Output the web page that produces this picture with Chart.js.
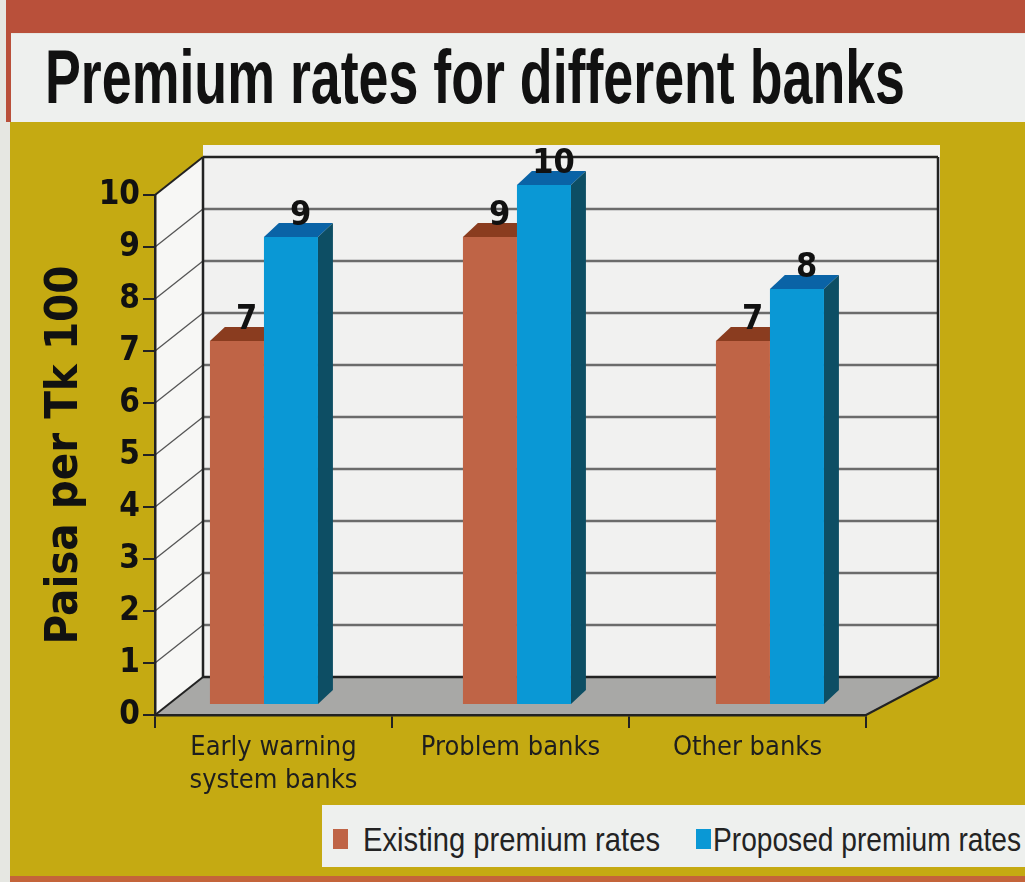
<!DOCTYPE html>
<html>
<head>
<meta charset="utf-8">
<script src="https://cdn.jsdelivr.net/npm/chart.js@4.4.0/dist/chart.umd.min.js"></script>
<style>
  body { margin: 0; width: 1025px; height: 882px; background: #e6e7e2; position: relative; overflow: hidden; }
  .box { position: absolute; }
  #redTop { left: 6px; top: 0; width: 1019px; height: 33px; background: #b9503a; }
  #redSide { left: 6px; top: 0; width: 5px; height: 122px; background: #b9503a; }
  #titleBox { left: 11px; top: 34px; width: 1014px; height: 88px; background: #eef0ee; }
  #panel { left: 10px; top: 122px; width: 1015px; height: 755px; background: #c5aa12; }
  #bottomLine { left: 10px; top: 876px; width: 1015px; height: 6px; background: #c4643a; }
  #legendBox { left: 322px; top: 805px; width: 703px; height: 62px; background: #eef0ee; }
  .fit { position: absolute; white-space: nowrap; display: inline-block; transform-origin: left center; font-family: "Liberation Sans", Arial, sans-serif; }
  #title { left: 45px; top: 39px; font-size: 76px; line-height: 76px; font-weight: bold; color: #111; }
  .legText { top: 823px; font-size: 33px; line-height: 33px; color: #232323; }
  .legSwatch { position: absolute; top: 829px; width: 15px; height: 20px; }
  canvas { position: absolute; left: 0; top: 0; }
</style>
</head>
<body>
<div class="box" id="redTop"></div>
<div class="box" id="redSide"></div>
<div class="box" id="titleBox"></div>
<div class="box" id="panel"></div>
<div class="box" id="bottomLine"></div>
<div class="box" id="legendBox"></div>
<div class="fit" id="title">Premium rates for different banks</div>
<div id="legend"></div>
<canvas id="chart" width="1025" height="882"></canvas>
<script>
const categories = [['Early warning', 'system banks'], 'Problem banks', 'Other banks'];
const existingRates = [7, 9, 7];
const proposedRates = [9, 10, 8];
const seriesNames = ['Existing premium rates', 'Proposed premium rates'];
const yTicks = [0, 1, 2, 3, 4, 5, 6, 7, 8, 9, 10];

const frontColors = ['#bf6446', '#0a98d5'];
const topColors = ['#8a3c1f', '#0a63a6'];
const sideColors = ['#7a3218', '#0d4e64'];

const condensed = "'Liberation Sans Narrow', 'DejaVu Sans Condensed', 'Liberation Sans', sans-serif";

// 3d depth of the frame
const DEPTH_L = 48, DEPTH_R = 72, DEPTH_Y = -38;
// bars sit a bit behind the front plane (slight perspective spread)
const BAR_SHIFT = -28, BAR_SPREAD = 1.0675, BAR_DY = -10;
const FACE_X = 14, FACE_Y = -14;

function fitText(el, w) {
    const r = el.getBoundingClientRect();
    el.style.transform = 'scaleX(' + (w / r.width) + ')';
}

// title + legend
fitText(document.getElementById('title'), 860);
const legend = document.getElementById('legend');
const legPos = [[333, 363, 297], [696, 713, 308]];
seriesNames.forEach((name, i) => {
    const sw = document.createElement('div');
    sw.className = 'legSwatch';
    sw.style.left = legPos[i][0] + 'px';
    sw.style.background = frontColors[i];
    legend.appendChild(sw);
    const t = document.createElement('div');
    t.className = 'fit legText';
    t.style.left = legPos[i][1] + 'px';
    t.textContent = name;
    legend.appendChild(t);
    fitText(t, legPos[i][2]);
});

function poly(ctx, pts, fill) {
    ctx.beginPath();
    ctx.moveTo(pts[0][0], pts[0][1]);
    for (let i = 1; i < pts.length; i++) ctx.lineTo(pts[i][0], pts[i][1]);
    ctx.closePath();
    ctx.fillStyle = fill;
    ctx.fill();
}

function line(ctx, x1, y1, x2, y2, color, w) {
    ctx.beginPath();
    ctx.moveTo(x1, y1);
    ctx.lineTo(x2, y2);
    ctx.strokeStyle = color;
    ctx.lineWidth = w;
    ctx.stroke();
}

const frame3d = {
    id: 'frame3d',
    beforeDraw(chart) {
        const {ctx, scales: {x, y}} = chart;
        const L = x.left, R = x.right;
        const y0 = y.getPixelForValue(0), yTop = y.getPixelForValue(10);
        const bl = L + DEPTH_L, br = R + DEPTH_R;
        ctx.save();
        // back wall
        ctx.fillStyle = '#f1f1f0';
        ctx.fillRect(bl, yTop + DEPTH_Y - 12, br - bl + 2, y0 - yTop + 12);
        // side wall
        poly(ctx, [[L, yTop], [bl, yTop + DEPTH_Y], [bl, y0 + DEPTH_Y], [L, y0]], '#f7f7f5');
        // floor
        poly(ctx, [[L, y0], [R, y0], [br, y0 + DEPTH_Y], [bl, y0 + DEPTH_Y]], '#a8a8a6');
        yTicks.forEach(v => {
            const py = y.getPixelForValue(v);
            if (v > 0 && v < 10) line(ctx, bl, py + DEPTH_Y, br, py + DEPTH_Y, '#6b6b6b', 2.5);
            if (v > 0) line(ctx, L, py, bl, py + DEPTH_Y, v === 10 ? '#222' : '#555', v === 10 ? 2 : 1.3);
        });
        // edges
        line(ctx, bl, yTop + DEPTH_Y, br, yTop + DEPTH_Y, '#222', 2.5);
        line(ctx, bl, yTop + DEPTH_Y, bl, y0 + DEPTH_Y, '#222', 2.5);
        line(ctx, br, yTop + DEPTH_Y, br, y0 + DEPTH_Y, '#222', 2.5);
        line(ctx, bl, y0 + DEPTH_Y, br, y0 + DEPTH_Y, '#222', 2.5);
        line(ctx, L, y0, bl, y0 + DEPTH_Y, '#222', 2);
        line(ctx, br, y0 + DEPTH_Y, R, y0, '#222', 2);
        ctx.restore();
    },
    beforeDatasetsDraw(chart) {
        const ctx = chart.ctx;
        ctx.save();
        ctx.translate(BAR_SHIFT, BAR_DY);
        ctx.scale(BAR_SPREAD, 1);
        // top and side faces, drawn under the front faces
        chart.data.datasets.forEach((ds, i) => {
            chart.getDatasetMeta(i).data.forEach(bar => {
                const x1 = bar.x - bar.width / 2, x2 = bar.x + bar.width / 2;
                poly(ctx, [[x1, bar.y], [x2, bar.y], [x2 + FACE_X, bar.y + FACE_Y], [x1 + FACE_X, bar.y + FACE_Y]], topColors[i]);
                poly(ctx, [[x2, bar.y], [x2 + FACE_X, bar.y + FACE_Y], [x2 + FACE_X, bar.base + FACE_Y], [x2, bar.base]], sideColors[i]);
            });
        });
    },
    afterDatasetsDraw(chart) {
        const ctx = chart.ctx;
        ctx.restore();
        ctx.save();
        ctx.font = 'bold 34px ' + condensed;
        ctx.fillStyle = '#111';
        ctx.textAlign = 'center';
        ctx.textBaseline = 'alphabetic';
        chart.data.datasets.forEach((ds, i) => {
            chart.getDatasetMeta(i).data.forEach((bar, j) => {
                const lx = BAR_SHIFT + BAR_SPREAD * (bar.x + 9);
                ctx.fillText(String(ds.data[j]), lx, bar.y + BAR_DY + FACE_Y + 2);
            });
        });
        ctx.restore();
    }
};

new Chart(document.getElementById('chart'), {
    type: 'bar',
    data: {
        labels: categories,
        datasets: [
            { label: seriesNames[0], data: existingRates, backgroundColor: frontColors[0] },
            { label: seriesNames[1], data: proposedRates, backgroundColor: frontColors[1] }
        ].map(d => Object.assign(d, { borderWidth: 0, categoryPercentage: 0.427, barPercentage: 1.0, clip: false }))
    },
    options: {
        responsive: false,
        animation: false,
        layout: { padding: { left: 0, top: 195, right: 159, bottom: 67 } },
        plugins: { legend: { display: false }, tooltip: { enabled: false } },
        scales: {
            x: {
                offset: true,
                grid: { offset: true, drawOnChartArea: false, tickLength: 13, color: '#222', lineWidth: 2 },
                border: { color: '#222', width: 2.5 },
                ticks: { color: '#1e1e1e', padding: 4, font: { family: condensed, size: 27, lineHeight: 1.22 } },
                afterFit: s => { s.height = 100; }
            },
            y: {
                min: 0,
                max: 10,
                ticks: { stepSize: 1, color: '#111', padding: 3, font: { family: condensed, size: 33, weight: 'bold' } },
                grid: { drawOnChartArea: false, tickLength: 12, color: '#222', lineWidth: 2 },
                border: { color: '#222', width: 2.5 },
                title: {
                    display: true,
                    text: 'Paisa per Tk 100',
                    color: '#111',
                    font: { family: condensed, size: 45, weight: 'bold', lineHeight: 1.2 },
                    padding: { top: 38, bottom: 0 }
                },
                afterFit: s => { s.width = 155; }
            }
        }
    },
    plugins: [frame3d]
});
</script>
</body>
</html>
